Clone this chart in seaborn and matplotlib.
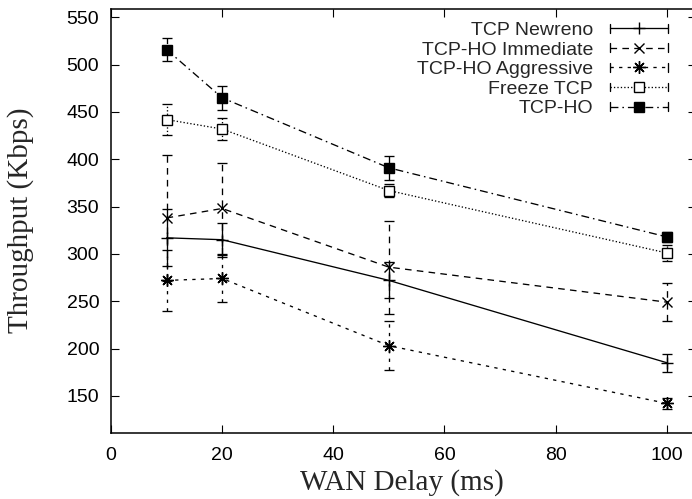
"""
Throughput vs WAN delay for the handoff schemes,
with error bars, drawn in the old gnuplot look.
"""
import matplotlib
matplotlib.use("Agg")
import matplotlib.pyplot as plt
import seaborn as sns
from matplotlib.lines import Line2D
from matplotlib.legend_handler import HandlerLine2D


"""
1. Data read off the figure
"""
delays = [10, 20, 50, 100]

schemes = ['TCP Newreno', 'TCP-HO Immediate', 'TCP-HO Aggressive',
           'Freeze TCP', 'TCP-HO']

newreno = [317, 315, 272, 185]
newreno_err = [30, 18, 19, 9.5]

ho_immediate = [338, 348, 286, 249]
ho_immediate_err = [67, 48, 49, 20]

ho_aggressive = [272, 274, 203, 142]
ho_aggressive_err = [32, 25, 26, 6]

freeze_tcp = [442, 432, 367, 301]
freeze_tcp_err = [16, 12, 7, 8]

tcp_ho = [516, 465, 391, 318]
tcp_ho_err = [12, 13, 13, 5]

values = [newreno, ho_immediate, ho_aggressive, freeze_tcp, tcp_ho]
errors = [newreno_err, ho_immediate_err, ho_aggressive_err,
          freeze_tcp_err, tcp_ho_err]

# line / marker style per scheme
styles = {
    'TCP Newreno': dict(ls='-', marker='+', ms=9, mfc='black'),
    'TCP-HO Immediate': dict(ls=(0, (5, 4)), marker='x', ms=7, mfc='black'),
    'TCP-HO Aggressive': dict(ls=(0, (2.5, 4)), marker=(8, 2, 0), ms=9,
                              mfc='black'),
    'Freeze TCP': dict(ls=(0, (1, 1.6)), marker='s', ms=6.8, mfc='white'),
    'TCP-HO': dict(ls=(0, (6, 3, 1.2, 3)), marker='s', ms=7,
                   mfc='black'),
}


"""
2. Plot
"""
sns.set_theme(style='ticks')
plt.rcParams['font.family'] = ['Liberation Sans', 'DejaVu Sans']
plt.rcParams['axes.linewidth'] = 1.1

# right border of the plot sits just outside the picture
right_px = 696
fig = plt.figure(figsize=(6.92, 4.99), dpi=100)
ax = fig.add_axes([111 / 692, 1 - 432.7 / 499,
                   (right_px - 111) / 692, (432.7 - 8.5) / 499])

lw = 0.95
for name, vals, errs in zip(schemes, values, errors):
    st = styles[name]
    eb = ax.errorbar(delays, vals, yerr=errs, fmt='none', ecolor='black',
                     elinewidth=lw, capsize=3.4, capthick=lw, zorder=2)
    eb.lines[2][0].set_linestyle(st['ls'])
    sns.lineplot(x=delays, y=vals, ax=ax, color='black', lw=lw,
                 linestyle=st['ls'], marker=st['marker'], ms=st['ms'],
                 mfc=st['mfc'], mec='black', mew=1.0, legend=False,
                 zorder=3)

ax.set_xlim(0, (right_px - 111) / 5.557)
ax.set_ylim(111, 559.4)
ax.set_xticks([0, 20, 40, 60, 80, 100])
ax.set_yticks([150, 200, 250, 300, 350, 400, 450, 500, 550])
ax.tick_params(direction='in', top=True, right=True, length=6,
               width=0.8, labelsize=14, colors='black')
ax.tick_params(axis='x', pad=10.5)
ax.tick_params(axis='y', pad=8.5)
for sp in ax.spines.values():
    sp.set_color('black')

ax.set_xlabel('WAN Delay (ms)', fontsize=21,
              family=['Liberation Serif', 'DejaVu Serif'])
ax.set_ylabel('Throughput (Kbps)', fontsize=21,
              family=['Liberation Serif', 'DejaVu Serif'])
ax.xaxis.set_label_coords((402 - 111) / (right_px - 111), -0.085)
ax.yaxis.set_label_coords((34 - 111) / (right_px - 111), 0.5)


class CapHandler(HandlerLine2D):
    """gnuplot-like key sample: line with end caps"""

    def create_artists(self, legend, orig_handle, xdescent, ydescent,
                       width, height, fontsize, trans):
        arts = super().create_artists(legend, orig_handle, xdescent,
                                      ydescent, width, height, fontsize,
                                      trans)
        ymid = (height - ydescent) / 2
        for xc in (-xdescent, width - xdescent):
            cap = Line2D([xc, xc], [ymid - 3.2, ymid + 3.2],
                         color='black', lw=lw)
            cap.set_transform(trans)
            arts.append(cap)
        return arts


handles = []
for name in schemes:
    st = styles[name]
    handles.append(Line2D([], [], color='black', lw=lw, linestyle=st['ls'],
                          marker=st['marker'], ms=st['ms'], mfc=st['mfc'],
                          mec='black', mew=1.0))

ax.legend(handles, schemes, loc='upper right',
          bbox_to_anchor=((668 - 111) / (right_px - 111),
                          (432.7 - 21.5) / 424.2),
          frameon=False, markerfirst=False, fontsize=14,
          handlelength=2.98, handletextpad=0.87, labelspacing=0.1,
          borderpad=0, borderaxespad=0, numpoints=1,
          handler_map={Line2D: CapHandler()})

plt.savefig('out.png', dpi=100)
